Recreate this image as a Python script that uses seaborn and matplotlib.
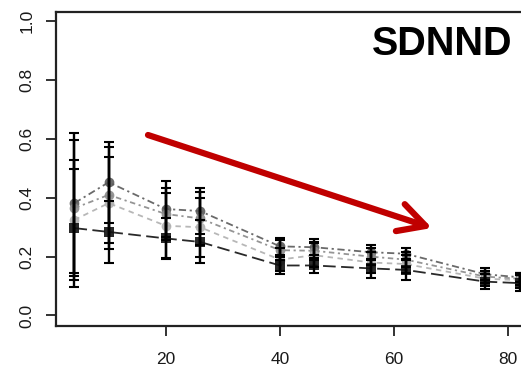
import matplotlib
matplotlib.use("Agg")
import matplotlib.pyplot as plt
import numpy as np
import pandas as pd
import seaborn as sns

# Sampling positions
x_vals = [4, 10, 20, 26, 40, 46, 56, 62, 76, 82]

# Series means
mean_a = [0.382, 0.453, 0.362, 0.355, 0.235, 0.232, 0.215, 0.210, 0.140, 0.130]
mean_b = [0.365, 0.410, 0.345, 0.330, 0.222, 0.220, 0.200, 0.190, 0.132, 0.125]
mean_c = [0.325, 0.382, 0.305, 0.300, 0.190, 0.205, 0.180, 0.175, 0.125, 0.120]
mean_d = [0.297, 0.284, 0.262, 0.250, 0.170, 0.170, 0.160, 0.155, 0.115, 0.110]

# Standard deviations
sd_a = [0.238, 0.137, 0.094, 0.079, 0.030, 0.028, 0.025, 0.018, 0.020, 0.015]
sd_b = [0.232, 0.163, 0.090, 0.090, 0.035, 0.030, 0.030, 0.025, 0.020, 0.020]
sd_c = [0.204, 0.157, 0.110, 0.100, 0.040, 0.040, 0.035, 0.030, 0.025, 0.025]
sd_d = [0.200, 0.106, 0.070, 0.073, 0.030, 0.027, 0.033, 0.034, 0.025, 0.026]

series_names = ["A", "B", "C", "D"]
x_ticks = [20, 40, 60, 80]
y_ticks = [0.0, 0.2, 0.4, 0.6, 0.8, 1.0]
y_tick_labels = ["0.0", "0.2", "0.4", "0.6", "0.8", "1.0"]
title_text = "SDNND"

means = {"A": mean_a, "B": mean_b, "C": mean_c, "D": mean_d}
sds = {"A": sd_a, "B": sd_b, "C": sd_c, "D": sd_d}

df = pd.concat(
    [pd.DataFrame({"x": x_vals, "y": means[s], "sd": sds[s], "series": s})
     for s in series_names],
    ignore_index=True,
)

sns.set_style("ticks")
plt.rcParams["font.family"] = ["Liberation Sans", "DejaVu Sans"]

W, H = 521, 372
fig = plt.figure(figsize=(W / 100, H / 100), dpi=100)

# axes box in pixel coordinates (left, top, right, bottom)
left_px, top_px, right_px, bottom_px = 56, 11.7, 531, 326
ax = fig.add_axes([left_px / W, 1 - bottom_px / H,
                   (right_px - left_px) / W, (bottom_px - top_px) / H])

palette = {"A": "#5a5a5a", "B": "#8a8a8a", "C": "#b0b0b0", "D": "#111111"}
dashes = {"A": (4, 2, 1.2, 2), "B": (3, 2, 1.2, 2), "C": (3, 2.5), "D": (7, 3)}
markers = {"A": "o", "B": "o", "C": "o", "D": "s"}

sns.lineplot(
    data=df, x="x", y="y", hue="series", style="series",
    palette=palette, dashes=dashes, markers=markers,
    markersize=7, markeredgewidth=0, linewidth=1.3,
    legend=False, ax=ax, zorder=2, alpha=0.9,
)

for s in series_names:
    sub = df[df["series"] == s]
    ax.errorbar(sub["x"], sub["y"], yerr=sub["sd"], fmt="none",
                ecolor="black", elinewidth=1.7, capsize=3.5,
                capthick=1.5, zorder=3)

ax.set_xlim(0.77, 83.97)
ax.set_ylim(-0.0357, 1.0326)
ax.set_xticks(x_ticks)
ax.set_xticklabels([str(t) for t in x_ticks])
ax.set_yticks(y_ticks)
ax.set_yticklabels(y_tick_labels, rotation=90, va="center")
ax.tick_params(axis="both", direction="out", length=7.5, width=1.3,
               color="#222222", labelsize=12.5, labelcolor="#1a1a1a")
ax.tick_params(axis="x", pad=11)
ax.tick_params(axis="y", pad=8)
ax.set_xlabel("")
ax.set_ylabel("")
for sp in ax.spines.values():
    sp.set_visible(True)
    sp.set_linewidth(1.6)
    sp.set_color("#222222")

fig.text(372 / W, 1 - 55 / H, title_text, fontsize=28.5, fontweight="bold",
         ha="left", va="baseline", color="black")

# trend arrow
ax.annotate(
    "", xy=(432 / W, 1 - 228 / H), xytext=(148 / W, 1 - 135 / H),
    xycoords="figure fraction", textcoords="figure fraction",
    arrowprops=dict(arrowstyle="->,head_length=0.32,head_width=0.17",
                    mutation_scale=60, color="#c00000", lw=4.5,
                    shrinkA=0, shrinkB=0),
    zorder=5,
)

fig.savefig("out.png", dpi=100)
